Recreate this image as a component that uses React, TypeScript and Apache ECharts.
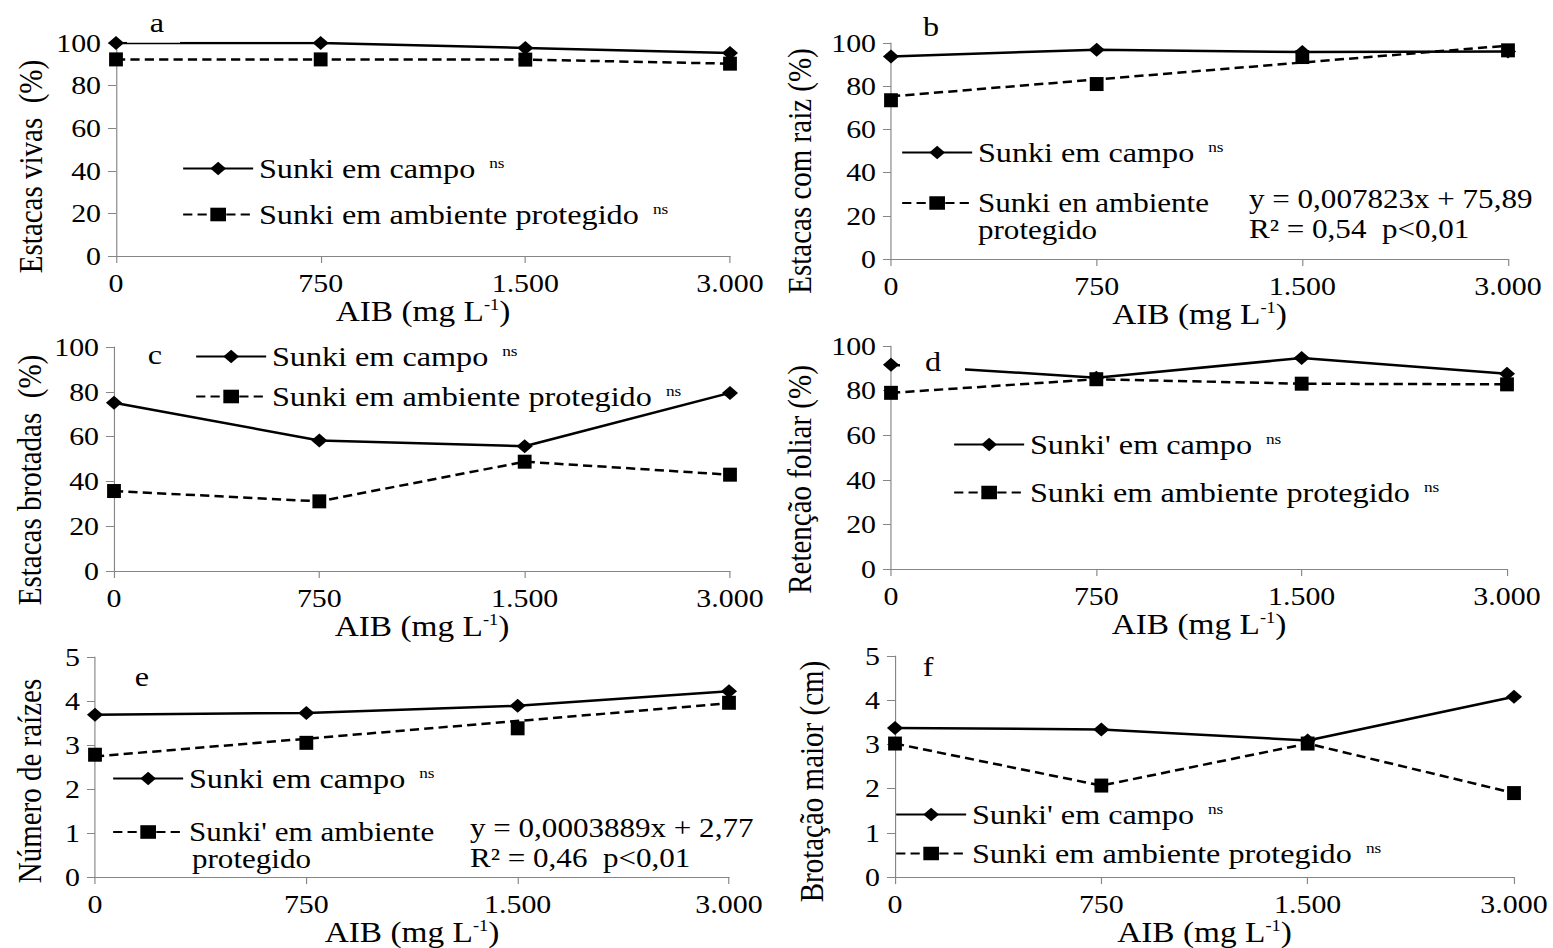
import React, { useEffect, useRef } from "react";
import * as echarts from "echarts";

// ---------- data ----------
const doses = ["0", "750", "1.500", "3.000"];

const vivasCampo = [100, 100, 97.7, 95.3];
const vivasProtegido = [92.3, 92.3, 92.2, 90.3];

const raizCampo = [93.8, 96.9, 95.8, 96.1];
const raizProtegido = [73.5, 81, 93.5, 96.6];
const raizTrend = [75.3, null, null, 98.8];

const brotadasCampo = [75.1, 58.3, 55.7, 79.5];
const brotadasProtegido = [35.7, 31.1, 48.8, 43];

const retencaoCampo = [91.6, 85.8, 94.6, 87.6];
const retencaoProtegido = [79, 85.1, 83.1, 82.8];

const raizesCampo = [3.69, 3.73, 3.89, 4.22];
const raizesProtegido = [2.78, 3.05, 3.38, 3.96];
const raizesTrend = [2.74, null, null, 3.95];

const brotacaoCampo = [3.37, 3.34, 3.09, 4.08];
const brotacaoProtegido = [3.02, 2.07, 3.02, 1.9];

const yTitles = [
  "Estacas vivas  (%)",
  "Estacas com raiz (%)",
  "Estacas brotadas  (%)",
  "Retenção foliar (%)",
  "Número de raízes",
  "Brotação maior (cm)",
];
const panelLetters = ["a", "b", "c", "d", "e", "f"];
const eqB = ["y = 0,007823x + 75,89", "R² = 0,54  p<0,01"];
const eqE = ["y = 0,0003889x + 2,77", "R² = 0,46  p<0,01"];

// ---------- layout (x values given in page pixels, divided by the horizontal stretch) ----------
const W = 1350;
const H = 948;
const SX = 1553 / W;
const FONT = "Liberation Serif";
const AXIS_COLOR = "#868686";
const ux = (x: number) => x / SX;

// [x0, x1, y0(top), y1(bottom)] in page pixels
const gridBoxes = [
  [116, 730, 43, 256],
  [891, 1508, 43, 259],
  [114, 730, 347, 571],
  [891, 1507, 346, 569],
  [95, 729, 657, 886],
  [895, 1514, 656, 879],
];
const yMax = [100, 100, 100, 100, 5, 5];
const yInterval = [20, 20, 20, 20, 1, 1];
const yNameCenterX = [31, 800, 30, 800, 30, 812];
const nameShift = [17, 20, 21, 22, 14, 15];
const letterPos = [
  [157, 23],
  [931, 27],
  [155, 355],
  [933, 362],
  [142, 677],
  [928, 667],
];

const legendItems = [
  { name: "Sunki em campo", label: "Sunki em campo", ns: true, left: 182, yc: 163, fs: 28 },
  { name: "Sunki em ambiente protegido", label: "Sunki em ambiente protegido", ns: true, left: 182, yc: 209, fs: 28 },
  { name: "Sunki em campo", label: "Sunki em campo", ns: true, left: 901, yc: 147, fs: 28 },
  { name: "Sunki en ambiente protegido", label: "Sunki en ambiente", ns: false, left: 901, yc: 198, fs: 27 },
  { name: "Sunki em campo", label: "Sunki em campo", ns: true, left: 195, yc: 351, fs: 28 },
  { name: "Sunki em ambiente protegido", label: "Sunki em ambiente protegido", ns: true, left: 195, yc: 391, fs: 28 },
  { name: "Sunki' em campo", label: "Sunki' em campo", ns: true, left: 953, yc: 439, fs: 28 },
  { name: "Sunki em ambiente protegido", label: "Sunki em ambiente protegido", ns: true, left: 953, yc: 487, fs: 28 },
  { name: "Sunki em campo", label: "Sunki em campo", ns: true, left: 112, yc: 773, fs: 28 },
  { name: "Sunki' em ambiente protegido", label: "Sunki' em ambiente", ns: false, left: 112, yc: 827, fs: 27 },
  { name: "Sunki' em campo", label: "Sunki' em campo", ns: true, left: 895, yc: 809, fs: 28 },
  { name: "Sunki em ambiente protegido", label: "Sunki em ambiente protegido", ns: true, left: 895, yc: 848, fs: 28 },
];

const LEG_H = 17;
const DIAMOND = [14, 14];
const SQUARE = [12, 14];
const DASH = [8, 4.5];

function campo(i: number, name: string, data: number[]) {
  return {
    type: "line",
    name,
    xAxisIndex: i,
    yAxisIndex: i,
    data,
    symbol: "diamond",
    symbolSize: DIAMOND,
    color: "#000",
    itemStyle: { color: "#000", opacity: 1 },
    lineStyle: { color: "#000", width: 2.5, type: "solid" },
    z: 3,
  };
}

function protegido(i: number, name: string, data: number[]) {
  return {
    type: "line",
    name,
    xAxisIndex: i,
    yAxisIndex: i,
    data,
    symbol: "rect",
    symbolSize: SQUARE,
    color: "#000",
    itemStyle: { color: "#000", opacity: 1 },
    lineStyle: { color: "#000", width: 2.5, type: DASH },
    z: 2,
  };
}

function trend(i: number, name: string, data: (number | null)[]) {
  return {
    type: "line",
    name,
    xAxisIndex: i,
    yAxisIndex: i,
    data,
    connectNulls: true,
    showSymbol: false,
    symbol: "rect",
    symbolSize: SQUARE,
    color: "#000",
    itemStyle: { color: "#000", opacity: 1 },
    lineStyle: { color: "#000", width: 2.5, type: DASH },
    z: 2,
  };
}

function squares(i: number, data: number[]) {
  return {
    type: "scatter",
    name: "pontos" + i,
    xAxisIndex: i,
    yAxisIndex: i,
    data,
    symbol: "rect",
    symbolSize: SQUARE,
    itemStyle: { color: "#000", opacity: 1 },
    z: 3,
  };
}

function buildOption() {
  const grid = gridBoxes.map(([x0, x1, y0, y1]) => ({
    left: ux(x0),
    width: ux(x1) - ux(x0),
    top: y0,
    height: y1 - y0,
    containLabel: false,
  }));

  const xAxis = gridBoxes.map((_, i) => ({
    gridIndex: i,
    type: "category",
    data: doses,
    boundaryGap: false,
    axisLine: { show: true, lineStyle: { color: AXIS_COLOR, width: 1 } },
    axisTick: { show: true, alignWithLabel: true, length: 7, lineStyle: { color: AXIS_COLOR } },
    splitLine: { show: false },
    axisLabel: { fontFamily: FONT, fontSize: 26, color: "#000", margin: 14 },
    name: "AIB (mg L{sup|-1})",
    nameLocation: "middle",
    nameGap: 40,
    nameTextStyle: {
      fontFamily: FONT,
      fontSize: 29,
      color: "#000",
      rich: {
        sup: { fontFamily: FONT, fontSize: 16, color: "#000", padding: [0, 0, 13, 0] },
      },
    },
  }));

  const yAxis = gridBoxes.map((b, i) => ({
    gridIndex: i,
    type: "value",
    min: 0,
    max: yMax[i],
    interval: yInterval[i],
    axisLine: { show: true, lineStyle: { color: AXIS_COLOR, width: 1 } },
    axisTick: { show: true, length: 7, lineStyle: { color: AXIS_COLOR } },
    splitLine: { show: false },
    axisLabel: { fontFamily: FONT, fontSize: 26, color: "#000", margin: 13 },
    name: yTitles[i],
    nameLocation: "middle",
    nameGap: (b[0] - yNameCenterX[i] - 16.7) / SX,
    nameTextStyle: {
      fontFamily: FONT,
      fontSize: 29,
      color: "#000",
      padding: [0, nameShift[i] * 2, 0, 0],
    },
  }));

  const series = [
    campo(0, "Sunki em campo", vivasCampo),
    protegido(0, "Sunki em ambiente protegido", vivasProtegido),
    campo(1, "Sunki em campo", raizCampo),
    trend(1, "Sunki en ambiente protegido", raizTrend),
    squares(1, raizProtegido),
    campo(2, "Sunki em campo", brotadasCampo),
    protegido(2, "Sunki em ambiente protegido", brotadasProtegido),
    campo(3, "Sunki' em campo", retencaoCampo),
    protegido(3, "Sunki em ambiente protegido", retencaoProtegido),
    campo(4, "Sunki em campo", raizesCampo),
    trend(4, "Sunki' em ambiente protegido", raizesTrend),
    squares(4, raizesProtegido),
    campo(5, "Sunki' em campo", brotacaoCampo),
    protegido(5, "Sunki em ambiente protegido", brotacaoProtegido),
  ];

  const legend = legendItems.map((it) => ({
    left: ux(it.left),
    top: it.yc - LEG_H / 2,
    padding: 0,
    orient: "vertical",
    itemWidth: ux(70),
    itemHeight: LEG_H,
    selectedMode: false,
    data: [it.name],
    formatter: () => (it.ns ? `{t|${it.label}}{ns|ns}` : it.label),
    textStyle: {
      fontFamily: FONT,
      fontSize: it.fs,
      color: "#000",
      rich: {
        t: { fontFamily: FONT, fontSize: it.fs, color: "#000" },
        ns: { fontFamily: FONT, fontSize: 15, color: "#000", padding: [0, 0, 12, 12] },
      },
    },
  }));

  const textEl = (x: number, y: number, text: string, size = 28, align = "left") => ({
    type: "text",
    x: ux(x),
    y,
    z: 100,
    style: {
      text,
      fontFamily: FONT,
      fontSize: size,
      fill: "#000",
      align,
      verticalAlign: "middle",
    },
  });

  const graphic: any[] = [
    // white boxes behind the panel letters (the line is interrupted there)
    { type: "rect", z: 90, shape: { x: ux(127), y: 39.5, width: ux(180) - ux(127), height: 3.3 }, style: { fill: "#fff" } },
    { type: "rect", z: 90, shape: { x: ux(900), y: 350, width: ux(965) - ux(900), height: 28 }, style: { fill: "#fff" } },
  ];
  panelLetters.forEach((l, i) => {
    graphic.push(textEl(letterPos[i][0], letterPos[i][1], l, 28, "center"));
  });
  graphic.push(textEl(978, 230, "protegido", 27));
  graphic.push(textEl(1249, 199, eqB[0], 27));
  graphic.push(textEl(1249, 229, eqB[1], 27));
  graphic.push(textEl(192, 859, "protegido", 27));
  graphic.push(textEl(470, 828, eqE[0], 27));
  graphic.push(textEl(470, 858, eqE[1], 27));

  return {
    animation: false,
    backgroundColor: "#fff",
    textStyle: { fontFamily: FONT },
    grid,
    xAxis,
    yAxis,
    legend,
    series,
    graphic,
  };
}

export default function App() {
  const ref = useRef<HTMLDivElement>(null);
  useEffect(() => {
    if (!ref.current) return;
    const chart = echarts.init(ref.current, undefined, { renderer: "svg" });
    chart.setOption(buildOption() as any);
    return () => chart.dispose();
  }, []);
  return (
    <div
      style={{
        position: "fixed",
        left: 0,
        top: 0,
        width: 1553,
        height: H,
        overflow: "hidden",
        background: "#fff",
      }}
    >
      <div
        ref={ref}
        style={{
          width: W,
          height: H,
          transform: `scaleX(${SX})`,
          transformOrigin: "0 0",
        }}
      />
    </div>
  );
}
